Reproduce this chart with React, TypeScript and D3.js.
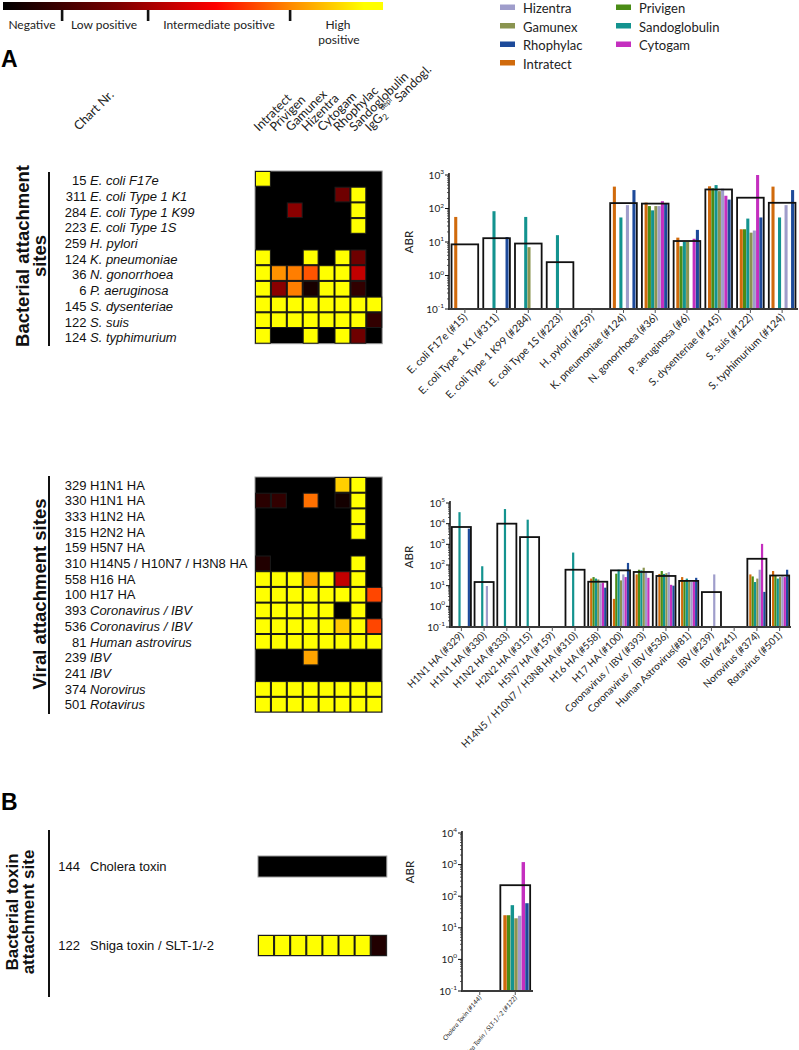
import React from "react";
import * as d3 from "d3";

// ---------------- data ----------------
const SERIES = ["Intratect", "Privigen", "Sandoglobulin", "Gamunex", "Hizentra", "Cytogam", "Rhophylac"];
const SERIES_COLORS = ["#d06a0c", "#4a8c16", "#13938f", "#8a9450", "#9f9dcb", "#c42fbf", "#1d4a9a"];
const LEGEND_LEFT = ["Hizentra", "Gamunex", "Rhophylac", "Intratect"];
const LEGEND_RIGHT = ["Privigen", "Sandoglobulin", "Cytogam"];

const HEAT_LEGEND = ["Negative", "Low positive", "Intermediate positive", "High positive"];
const HOT_STOPS = [0, 0.3, 0.56, 0.76, 0.95, 1];
const HOT_COLORS = ["#000000", "#7a0000", "#ff0000", "#ff8c00", "#ffff00", "#ffff00"];

const HEAT_COLUMNS = ["Intratect", "Privigen", "Gamunex", "Hizentra", "Cytogam", "Rhophylac", "Sandoglobulin"];

const BACT_NUMS = ["15", "311", "284", "223", "259", "124", "36", "6", "145", "122", "124"];
const BACT_NAMES = ["E. coli F17e", "E. coli Type 1 K1", "E. coli Type 1 K99", "E. coli Type 1S", "H. pylori", "K. pneumoniae", "N. gonorrhoea", "P. aeruginosa", "S. dysenteriae", "S. suis", "S. typhimurium"];
const BACT_HEAT = [
  [1, 0, 0, 0, 0, 0, 0, 0],
  [0, 0, 0, 0, 0, 0.27, 1, 0],
  [0, 0, 0.33, 0, 0, 0, 1, 0],
  [0, 0, 0, 0, 0, 0, 1, 0],
  [0, 0, 0, 0, 0, 0, 0, 0],
  [1, 0, 0, 1, 0, 1, 0.27, 0],
  [1, 0.77, 0.74, 0.68, 1, 1, 0.44, 0],
  [1, 0.33, 0.74, 0.06, 1, 1, 0.12, 0],
  [1, 1, 1, 1, 1, 1, 1, 1],
  [1, 1, 1, 1, 1, 1, 1, 0.12],
  [1, 0, 0, 1, 0, 1, 0.27, 0],
];
const BACT_BAR_LABELS = ["E. coli F17e (#15)", "E. coli Type 1 K1 (#311)", "E. coli Type 1 K99 (#284)", "E. coli Type 1S (#223)", "H. pylori (#259)", "K. pneumoniae (#124)", "N. gonorrhoea (#36)", "P. aeruginosa (#6)", "S. dysenteriae (#145)", "S. suis (#122)", "S. typhimurium (#124)"];
const BACT_VALUES = [
  [56, 0, 0, 0, 0, 0, 0],
  [0, 0, 83, 0, 0, 0, 14],
  [0, 0, 56, 7, 0, 0, 0],
  [0, 0, 16, 0, 0, 0, 0],
  [0, 0, 0, 0, 0, 0, 0],
  [450, 0, 54, 0, 126, 0, 355],
  [150, 118, 88, 118, 118, 165, 140],
  [13.5, 7.5, 10, 10, 0, 12.5, 23],
  [460, 400, 500, 330, 390, 240, 185],
  [24, 24, 50, 19, 22, 1000, 54],
  [450, 0, 54, 0, 126, 0, 355],
];
const BACT_BOX = [8.5, 13, 9, 2.5, 0, 145, 140, 10.7, 370, 210, 148];

const VIR_NUMS = ["329", "330", "333", "315", "159", "310", "558", "100", "393", "536", "81", "239", "241", "374", "501"];
const VIR_NAMES = ["H1N1 HA", "H1N1 HA", "H1N2 HA", "H2N2 HA", "H5N7 HA", "H14N5 / H10N7 / H3N8 HA", "H16 HA", "H17 HA", "Coronavirus / IBV", "Coronavirus / IBV", "Human astrovirus", "IBV", "IBV", "Norovirus", "Rotavirus"];
const VIR_ITALIC = [false, false, false, false, false, false, false, false, true, true, true, true, true, true, true];
const VIR_HEAT = [
  [0, 0, 0, 0, 0, 0.87, 1, 0],
  [0.1, 0.12, 0, 0.72, 0, 0.05, 1, 0],
  [0, 0, 0, 0, 0, 0, 1, 0],
  [0, 0, 0, 0, 0, 0, 1, 0],
  [0, 0, 0, 0, 0, 0, 0, 0],
  [0.08, 0, 0, 0, 0, 0, 1, 0],
  [1, 1, 1, 0.8, 1, 0.44, 1, 0],
  [1, 1, 1, 1, 1, 1, 1, 0.66],
  [1, 1, 1, 1, 1, 0, 1, 0],
  [1, 1, 1, 1, 1, 0.86, 1, 0.66],
  [1, 1, 1, 1, 1, 1, 1, 1],
  [0, 0, 0, 0.8, 0, 0, 0, 0],
  [0, 0, 0, 0, 0, 0, 0, 0],
  [1, 1, 1, 1, 1, 1, 1, 1],
  [1, 1, 1, 1, 1, 1, 1, 1],
];
const VIR_BAR_LABELS = ["H1N1 HA (#329)", "H1N1 HA (#330)", "H1N2 HA (#333)", "H2N2 HA (#315)", "H5N7 HA (#159)", "H14N5 / H10N7 / H3N8 HA (#310)", "H16 HA (#558)", "H17 HA (#100)", "Coronavirus / IBV (#393)", "Coronavirus / IBV (#536)", "Human Astrovirus(#81)", "IBV (#239)", "IBV (#241)", "Norovirus (#374)", "Rotavirus (#501)"];
const VIR_VALUES = [
  [0, 0, 36000, 0, 0, 0, 5700],
  [0, 0, 87, 0, 9.6, 0, 0],
  [0, 0, 51000, 0, 0, 0, 0],
  [0, 0, 15600, 0, 0, 0, 0],
  [0, 0, 0, 0, 0, 0, 0],
  [0, 0, 400, 0, 0, 0, 0],
  [22, 26, 22, 20, 13, 14, 8],
  [2.3, 38, 59, 18, 35, 26, 126],
  [35, 59, 55, 74, 45, 24, 0],
  [37, 51, 37, 40, 45, 11, 10],
  [26, 17, 22, 16, 15, 16, 24],
  [0, 0, 0, 0, 35, 0, 0],
  [0, 0, 0, 0, 0, 0, 0],
  [35, 28, 15, 22, 59, 1050, 5],
  [51, 31, 22, 26, 28, 26, 59],
];
const VIR_BOX = [6900, 15, 10000, 2240, 0, 59, 15.5, 55, 46, 29.5, 17, 4.9, 0, 200, 31];

const TOX_NUMS = ["144", "122"];
const TOX_NAMES = ["Cholera toxin", "Shiga toxin / SLT-1/-2"];
const TOX_HEAT = [
  [0, 0, 0, 0, 0, 0, 0, 0],
  [1, 1, 1, 1, 1, 1, 1, 0.08],
];
const TOX_BAR_LABELS = ["Cholera Toxin (#144)", "Shiga Toxin / SLT-1/-2 (#122)"];
const TOX_VALUES = [
  [0, 0, 0, 0, 0, 0, 0],
  [25, 25, 52, 20, 24, 1200, 60],
];
const TOX_BOX = [0, 223];

// ---------------- helpers ----------------
const SANS = "'Liberation Sans', Arial, sans-serif";
const CAL = "Lato, 'Open Sans', sans-serif";
const hot = d3.scaleLinear<string>().domain(HOT_STOPS).range(HOT_COLORS).clamp(true);

function Heatmap({ rows, x0, y0, cw, ch }: any) {
  const xs = d3.scaleBand<number>().domain(d3.range(8)).range([x0, x0 + 8 * cw]);
  const ys = d3.scaleBand<number>().domain(d3.range(rows.length)).range([y0, y0 + rows.length * ch]);
  return (
    <g>
      <rect x={x0} y={y0} width={8 * cw} height={rows.length * ch} fill="#000" stroke="#9a9a9a" strokeWidth={1} />
      {rows.map((r: number[], i: number) =>
        r.map((v, j) =>
          v > 0 ? (
            <rect key={i + "-" + j} x={(xs(j) as number) + 0.5} y={(ys(i) as number) + 0.5} width={xs.bandwidth() - 1} height={ys.bandwidth() - 1}
              fill={hot(v)} stroke="#1a1a1a" strokeWidth={1} />
          ) : null
        )
      )}
    </g>
  );
}

function RowLabels({ nums, names, italic, y0, step, numX, nameX, size }: any) {
  const ys = d3.scaleLinear().domain([0, 1]).range([y0, y0 + step]);
  return (
    <g fontFamily={SANS} fontSize={size} fill="#111">
      {nums.map((n: string, i: number) => (
        <g key={i}>
          <text x={numX} y={ys(i)} textAnchor="end" dominantBaseline="central">{n}</text>
          <text x={nameX} y={ys(i)} dominantBaseline="central" fontStyle={italic[i] ? "italic" : "normal"}>{names[i]}</text>
        </g>
      ))}
    </g>
  );
}

function BarChart({ labels, values, boxes, x0, x1, yTop, yBottom, maxExp, rot, ldx, ldy, italic, lsize, abrX, abrY, axisTop }: any) {
  const x = d3.scaleBand<number>().domain(d3.range(labels.length)).range([x0, x1]);
  const y = d3.scaleLog().domain([0.1, Math.pow(10, maxExp)]).range([yBottom, yTop]);
  const step = x.bandwidth();
  const exps = d3.range(-1, maxExp + 1);
  const minor = y.ticks().filter((t) => !exps.some((e) => Math.abs(Math.log10(t) - e) < 1e-6));
  return (
    <g>
      {values.map((vals: number[], i: number) => {
        const cx = (x(i) as number) + step / 2;
        const bw = step * 0.84;
        const bx = cx - bw / 2;
        const inner = d3.scaleBand<string>().domain(SERIES).range([bx + bw * 0.1, bx + bw * 0.95]).paddingInner(0.06);
        return (
          <g key={i}>
            {vals.map((v, k) =>
              v > 0 ? (
                <rect key={k} x={inner(SERIES[k])} width={inner.bandwidth()} y={y(v)} height={yBottom - y(v)} fill={SERIES_COLORS[k]} />
              ) : null
            )}
            {boxes[i] > 0 ? (
              <rect x={bx} y={y(boxes[i])} width={bw} height={yBottom - y(boxes[i])} fill="none" stroke="#111" strokeWidth={1.8} />
            ) : null}
          </g>
        );
      })}
      {/* y axis */}
      <line x1={x0} x2={x0} y1={axisTop} y2={yBottom + 1} stroke="#111" strokeWidth={1.5} />
      {minor.map((t, i) => (
        <line key={i} x1={x0 - 2} x2={x0} y1={y(t)} y2={y(t)} stroke="#333" strokeWidth={0.8} />
      ))}
      {exps.map((e) => (
        <g key={e}>
          <line x1={x0 - 4} x2={x0} y1={y(Math.pow(10, e))} y2={y(Math.pow(10, e))} stroke="#111" strokeWidth={1} />
          <text x={x0 - 5} y={y(Math.pow(10, e)) + 3.5} textAnchor="end" fontFamily={CAL} fontSize={10} fill="#222">
            10<tspan dy={-4.5} fontSize={6.5}>{e}</tspan>
          </text>
        </g>
      ))}
      <text transform={`translate(${abrX},${abrY}) rotate(-90)`} textAnchor="middle" fontFamily={CAL} fontSize={11.5} fill="#222">ABR</text>
      {/* x axis */}
      <line x1={x0} x2={x1} y1={yBottom} y2={yBottom} stroke="#3a3a3a" strokeWidth={2.2} />
      {labels.map((l: string, i: number) => {
        const cx = (x(i) as number) + step / 2;
        return (
          <g key={i}>
            <line x1={cx} x2={cx} y1={yBottom} y2={yBottom + 4} stroke="#555" strokeWidth={1} />
            <text transform={`translate(${cx + ldx},${yBottom + ldy}) rotate(${rot})`} textAnchor="end"
              fontFamily={CAL} fontSize={lsize} fontStyle={italic ? "italic" : "normal"} fill="#222">{l}</text>
          </g>
        );
      })}
    </g>
  );
}

function VTitle({ lines, cy, base, lh, size }: any) {
  return (
    <g fontFamily={SANS} fontWeight="bold" fontSize={size} fill="#111">
      {lines.map((t: string, i: number) => (
        <text key={i} transform={`translate(${base - (lines.length - 1 - i) * lh},${cy}) rotate(-90)`} textAnchor="middle">{t}</text>
      ))}
    </g>
  );
}

export default function App() {
  const gradTicks = [62, 148, 290];
  const colX = d3.scaleBand<number>().domain(d3.range(8)).range([255, 255 + 8 * 15.9]);
  const legY = d3.scaleLinear().domain([0, 1]).range([4.5, 23]);
  return (
    <svg width={799} height={1050} style={{ position: "absolute", left: 0, top: 0, background: "#fff" }}>
      <defs>
        <linearGradient id="hotg" x1="0" x2="1" y1="0" y2="0">
          {HOT_STOPS.map((s, i) => (
            <stop key={i} offset={s} stopColor={HOT_COLORS[i]} />
          ))}
        </linearGradient>
      </defs>
      <rect x={0} y={0} width={799} height={1050} fill="#fff" />

      {/* colour gradient legend */}
      <rect x={3} y={2} width={380} height={8} fill="url(#hotg)" />
      {gradTicks.map((t, i) => (
        <rect key={i} x={t - 1.2} y={10} width={2.6} height={11} fill="#111" />
      ))}
      <g fontFamily={CAL} fontSize={12} fill="#222" textAnchor="middle">
        <text x={32} y={28.5}>{HEAT_LEGEND[0]}</text>
        <text x={104} y={28.5}>{HEAT_LEGEND[1]}</text>
        <text x={219} y={28.5}>{HEAT_LEGEND[2]}</text>
        <text x={338} y={28.5}>High</text>
        <text x={339} y={44}>positive</text>
      </g>

      {/* series legend */}
      <g fontFamily={CAL} fontSize={13} fill="#222">
        {LEGEND_LEFT.map((s, i) => (
          <g key={s}>
            <rect x={500} y={legY(i)} width={15} height={5.5} fill={SERIES_COLORS[SERIES.indexOf(s)]} />
            <text x={523} y={legY(i) + 8.5}>{s}</text>
          </g>
        ))}
        {LEGEND_RIGHT.map((s, i) => (
          <g key={s}>
            <rect x={616} y={legY(i)} width={15} height={5.5} fill={SERIES_COLORS[SERIES.indexOf(s)]} />
            <text x={639} y={legY(i) + 8.5}>{s}</text>
          </g>
        ))}
      </g>

      {/* panel letters */}
      <text x={1} y={67} fontFamily={SANS} fontWeight="bold" fontSize={23}>A</text>
      <text x={1} y={810} fontFamily={SANS} fontWeight="bold" fontSize={23}>B</text>

      {/* heatmap column headers */}
      <g fontFamily={CAL} fontSize={12.5} fill="#222">
        <text transform="translate(79,131) rotate(-45)">Chart Nr.</text>
        {HEAT_COLUMNS.map((c, j) => (
          <text key={c} transform={`translate(${(colX(j) as number) + 4},${132}) rotate(-45)`}>{c}</text>
        ))}
        <text transform={`translate(${(colX(7) as number) + 4},${132}) rotate(-45)`}>
          IgG<tspan fontSize={8.5} dy={3}>2</tspan>
          <tspan fontSize={7.5} dy={-9.5}>depl</tspan>
          <tspan fontSize={12.5} dy={6.5}> Sandogl.</tspan>
        </text>
      </g>

      {/* Bacterial section */}
      <VTitle lines={["Bacterial attachment", "sites"]} cy={256} base={46} lh={17} size={18.5} />
      <line x1={49} x2={49} y1={172} y2={346} stroke="#111" strokeWidth={2} />
      <RowLabels nums={BACT_NUMS} names={BACT_NAMES} italic={BACT_NAMES.map(() => true)} y0={180.7} step={15.7} numX={86.5} nameX={90} size={13} />
      <Heatmap rows={BACT_HEAT} x0={255} y0={171} cw={15.9} ch={15.7} />
      <BarChart labels={BACT_BAR_LABELS} values={BACT_VALUES} boxes={BACT_BOX} x0={449} x1={798} yTop={175} yBottom={309}
        maxExp={3} rot={-45} ldx={3} ldy={9} italic={false} lsize={10.5} abrX={413} abrY={242} axisTop={173} />

      {/* Viral section */}
      <VTitle lines={["Viral attachment sites"]} cy={594} base={46} lh={17} size={18.5} />
      <line x1={49} x2={49} y1={476} y2={714} stroke="#111" strokeWidth={2} />
      <RowLabels nums={VIR_NUMS} names={VIR_NAMES} italic={VIR_ITALIC} y0={485} step={15.7} numX={86.5} nameX={90} size={13} />
      <Heatmap rows={VIR_HEAT} x0={255} y0={477} cw={15.9} ch={15.7} />
      <BarChart labels={VIR_BAR_LABELS} values={VIR_VALUES} boxes={VIR_BOX} x0={450} x1={791} yTop={503} yBottom={627}
        maxExp={5} rot={-45} ldx={3} ldy={9} italic={false} lsize={10} abrX={413} abrY={557} axisTop={501} />

      {/* Toxin section */}
      <VTitle lines={["Bacterial toxin", "attachment site"]} cy={912} base={34} lh={16} size={17} />
      <line x1={49} x2={49} y1={830} y2={997} stroke="#111" strokeWidth={2} />
      <RowLabels nums={TOX_NUMS} names={TOX_NAMES} italic={[false, false]} y0={866} step={79} numX={80} nameX={90} size={13} />
      <Heatmap rows={[TOX_HEAT[0]]} x0={258} y0={856} cw={16.1} ch={21} />
      <Heatmap rows={[TOX_HEAT[1]]} x0={258} y0={935} cw={16.1} ch={21} />
      <BarChart labels={TOX_BAR_LABELS} values={TOX_VALUES} boxes={TOX_BOX} x0={462} x1={533} yTop={833} yBottom={991}
        maxExp={4} rot={-50} ldx={2} ldy={7} italic={true} lsize={6.5} abrX={414} abrY={872} axisTop={831} />
    </svg>
  );
}
